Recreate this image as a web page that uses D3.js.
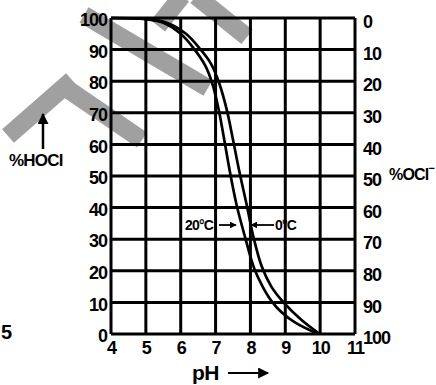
<!DOCTYPE html>
<html>
<head>
<meta charset="utf-8">
<script src="https://cdn.jsdelivr.net/npm/d3@7"></script>
<style>
  body { margin: 0; background: #fff; }
  svg { display: block; font-family: "Liberation Sans", Arial, sans-serif; font-weight: bold; }
</style>
</head>
<body>
<svg id="chart" width="436" height="385"></svg>
<script>
// pH axis ticks and % scales
const phTicks = [4, 5, 6, 7, 8, 9, 10, 11];
const hoclTicks = [0, 10, 20, 30, 40, 50, 60, 70, 80, 90, 100];

// curves: % HOCl at a given pH
const ph20 = [4, 5, 5.5, 6.0, 6.4, 6.7, 6.9, 7.08, 7.24, 7.4, 7.6, 7.85, 8.1, 8.35, 8.6, 8.9, 9.3, 9.9];
const hocl20 = [100, 99.6, 98.5, 95, 90, 85, 79.5, 71.5, 62, 52, 41, 30.5, 21, 15, 10.5, 6.8, 3.5, 0.2];
const ph0 = [4, 5, 5.6, 6.15, 6.57, 6.87, 7.1, 7.32, 7.5, 7.69, 7.9, 8.08, 8.32, 8.6, 8.95, 9.45, 9.95];
const hocl0 = [100, 99.7, 98.5, 95, 90, 85.5, 79.5, 71, 61.5, 51, 40.5, 31, 21.5, 15, 10, 4.6, 0.3];

const svg = d3.select("svg#chart");

const x = d3.scaleLinear().domain([4, 11]).range([111, 355]);
const y = d3.scaleLinear().domain([0, 100]).range([334, 18]);

// grey watermark strokes behind everything
const marks = [
  [[8, 136], [72, 80]],
  [[60, 84], [142, 140]],
  [[84, 15], [208, 88]],
  [[158, 26], [182, -4]],
  [[196, -4], [247, 37]]
];
svg.append("g")
  .selectAll("path")
  .data(marks)
  .enter()
  .append("path")
  .attr("d", d3.line())
  .attr("stroke", "#a0a0a0")
  .attr("stroke-width", 18)
  .attr("fill", "none");

// grid
const grid = svg.append("g").attr("stroke", "#000").attr("stroke-width", 3);
grid.selectAll("line.v")
  .data(phTicks)
  .enter()
  .append("line")
  .attr("x1", (d) => x(d))
  .attr("x2", (d) => x(d))
  .attr("y1", y(0))
  .attr("y2", y(100));
grid.selectAll("line.h")
  .data(hoclTicks)
  .enter()
  .append("line")
  .attr("x1", x(4))
  .attr("x2", x(11))
  .attr("y1", (d) => y(d))
  .attr("y2", (d) => y(d));

// left axis (% HOCl)
const left = svg.append("g")
  .attr("transform", `translate(${x(4) - 2},2)`)
  .call(d3.axisLeft(y).tickValues(hoclTicks).tickSize(0).tickPadding(2));
// right axis (% OCl-), reversed
const yr = d3.scaleLinear().domain([100, 0]).range([334, 18]);
const right = svg.append("g")
  .attr("transform", `translate(${x(11) + 6},4)`)
  .call(d3.axisRight(yr).tickValues(hoclTicks).tickSize(0).tickPadding(2));
// bottom axis (pH)
const bottom = svg.append("g")
  .attr("transform", `translate(0,${y(0) + 5})`)
  .call(d3.axisBottom(x).tickValues(phTicks).tickFormat(d3.format("d")).tickSize(0).tickPadding(2));

[left, right, bottom].forEach((g) => {
  g.select(".domain").remove();
  g.selectAll("text")
    .attr("fill", "#000")
    .style("font-size", "18px")
    .style("font-weight", "bold")
    .style("letter-spacing", "-1px")
    .style("font-family", '"Liberation Sans", Arial, sans-serif');
});

// curves
const line = d3.line().curve(d3.curveCatmullRom.alpha(0.5));
const curves = [
  ph20.map((p, i) => [x(p), y(hocl20[i])]),
  ph0.map((p, i) => [x(p), y(hocl0[i])])
];
svg.append("g")
  .selectAll("path")
  .data(curves)
  .enter()
  .append("path")
  .attr("d", line)
  .attr("fill", "none")
  .attr("stroke", "#000")
  .attr("stroke-width", 2.7);

// arrowheads
const defs = svg.append("defs");
defs.append("marker")
  .attr("id", "head")
  .attr("viewBox", "0 0 10 10")
  .attr("refX", 9)
  .attr("refY", 5)
  .attr("markerWidth", 7)
  .attr("markerHeight", 7)
  .attr("markerUnits", "userSpaceOnUse")
  .attr("orient", "auto")
  .append("path")
  .attr("d", "M0,0L10,5L0,10Z")
  .attr("fill", "#000");
defs.append("marker")
  .attr("id", "bighead")
  .attr("viewBox", "0 0 10 10")
  .attr("refX", 9)
  .attr("refY", 5)
  .attr("markerWidth", 12)
  .attr("markerHeight", 11)
  .attr("markerUnits", "userSpaceOnUse")
  .attr("orient", "auto")
  .append("path")
  .attr("d", "M0,0L10,5L0,10Z")
  .attr("fill", "#000");

// temperature labels
const yT = 225;
svg.append("text")
  .attr("x", 185)
  .attr("y", yT + 5)
  .style("font-size", "14px")
  .style("letter-spacing", "-0.8px")
  .text("20°C");
svg.append("line")
  .attr("x1", 219).attr("x2", 236)
  .attr("y1", yT).attr("y2", yT)
  .attr("stroke", "#000").attr("stroke-width", 1.8)
  .attr("marker-end", "url(#head)");
svg.append("line")
  .attr("x1", 274).attr("x2", 251)
  .attr("y1", yT).attr("y2", yT)
  .attr("stroke", "#000").attr("stroke-width", 1.8)
  .attr("marker-end", "url(#head)");
svg.append("text")
  .attr("x", 275)
  .attr("y", yT + 5)
  .style("font-size", "14px")
  .style("letter-spacing", "-0.8px")
  .text("0°C");

// axis titles
svg.append("text")
  .attr("x", 9)
  .attr("y", 166)
  .style("font-size", "17px")
  .style("letter-spacing", "-0.8px")
  .text("%HOCl");
svg.append("line")
  .attr("x1", 43).attr("x2", 43)
  .attr("y1", 149).attr("y2", 114)
  .attr("stroke", "#000").attr("stroke-width", 2.5)
  .attr("marker-end", "url(#bighead)");

const ocl = svg.append("text")
  .attr("x", 389)
  .attr("y", 180)
  .style("font-size", "16px")
  .style("letter-spacing", "-0.8px");
ocl.append("tspan").text("%OCl");
ocl.append("tspan").attr("dy", -8).style("font-size", "11px").text("−");

svg.append("text")
  .attr("x", 192)
  .attr("y", 380)
  .style("font-size", "21px")
  .style("letter-spacing", "-0.5px")
  .text("pH");
svg.append("line")
  .attr("x1", 228).attr("x2", 268)
  .attr("y1", 373).attr("y2", 373)
  .attr("stroke", "#000").attr("stroke-width", 2)
  .attr("marker-end", "url(#bighead)");

// stray fragment at left edge
svg.append("text")
  .attr("x", 1)
  .attr("y", 339)
  .style("font-size", "20px")
  .text("5");
</script>
</body>
</html>
